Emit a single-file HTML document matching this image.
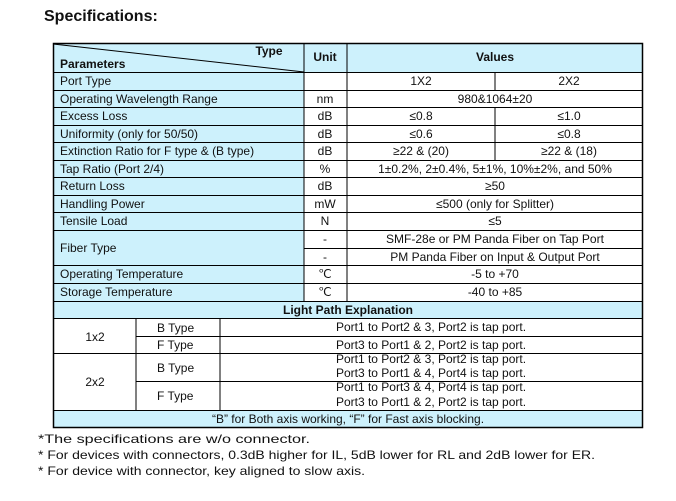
<!DOCTYPE html>
<html><head><meta charset="utf-8"><style>
html,body{margin:0;padding:0;background:#fff;}
svg{display:block;font-family:"Liberation Sans",Arial,sans-serif;}
text{fill:#111;font-size:12px;}
.c{text-anchor:middle;}
.b{font-weight:bold;}
</style></head><body>
<svg width="676" height="501" viewBox="0 0 676 501">
<text x="44" y="21" class="b" style="font-size:16px">Specifications:</text>
<g fill="#cdf1fc">
<rect x="53" y="43" width="590" height="29"/>
<rect x="53" y="72" width="251" height="229"/>
<rect x="53" y="301" width="590" height="17"/>
<rect x="53" y="410" width="590" height="17"/>
</g>
<g stroke="#000" stroke-width="1" fill="none">
<rect x="53.5" y="43.5" width="589" height="384" stroke-width="1.5"/>
<line x1="53" y1="44" x2="304" y2="72"/>
<line x1="304" y1="43" x2="304" y2="301"/>
<line x1="347" y1="43" x2="347" y2="301"/>
<line x1="495" y1="72" x2="495" y2="90"/>
<line x1="495" y1="107" x2="495" y2="160"/>
<path d="M53 72.5H643M53 90.5H643M53 107.5H643M53 125.5H643M53 142.5H643M53 160.5H643M53 177.5H643M53 195.5H643M53 212.5H643M53 230.5H643M304 248.5H643M53 265.5H643M53 283.5H643M53 301.5H643M53 318.5H643M136 336.5H643M53 353.5H643M136 381.5H643M53 410.5H643"/>
<line x1="136" y1="318" x2="136" y2="410"/>
<line x1="220" y1="318" x2="220" y2="410"/>
</g>
<text x="269" y="55" class="b c">Type</text>
<text x="60" y="68" class="b">Parameters</text>
<text x="325" y="61" class="b c">Unit</text>
<text x="495" y="61" class="b c">Values</text>
<g>
<text x="60" y="85">Port Type</text>
<text x="60" y="103">Operating Wavelength Range</text>
<text x="60" y="120">Excess Loss</text>
<text x="60" y="138">Uniformity (only for 50/50)</text>
<text x="60" y="155">Extinction Ratio for F type &amp; (B type)</text>
<text x="60" y="173">Tap Ratio (Port 2/4)</text>
<text x="60" y="190">Return Loss</text>
<text x="60" y="208">Handling Power</text>
<text x="60" y="225">Tensile Load</text>
<text x="60" y="252">Fiber Type</text>
<text x="60" y="278">Operating Temperature</text>
<text x="60" y="296">Storage Temperature</text>
</g>
<g class="c">
<text x="325" y="103" class="c">nm</text>
<text x="325" y="120" class="c">dB</text>
<text x="325" y="138" class="c">dB</text>
<text x="325" y="155" class="c">dB</text>
<text x="325" y="173" class="c">%</text>
<text x="325" y="190" class="c">dB</text>
<text x="325" y="208" class="c">mW</text>
<text x="325" y="225" class="c">N</text>
<text x="325" y="243" class="c">-</text>
<text x="325" y="261" class="c">-</text>
<text x="325" y="278" class="c">℃</text>
<text x="325" y="296" class="c">℃</text>
<text x="421" y="85" class="c">1X2</text>
<text x="569" y="85" class="c">2X2</text>
<text x="495" y="103" class="c">980&amp;1064±20</text>
<text x="421" y="120" class="c">≤0.8</text>
<text x="569" y="120" class="c">≤1.0</text>
<text x="421" y="138" class="c">≤0.6</text>
<text x="569" y="138" class="c">≤0.8</text>
<text x="421" y="155" class="c">≥22 &amp; (20)</text>
<text x="569" y="155" class="c">≥22 &amp; (18)</text>
<text x="495" y="173" class="c">1±0.2%, 2±0.4%, 5±1%, 10%±2%, and 50%</text>
<text x="495" y="190" class="c">≥50</text>
<text x="495" y="208" class="c">≤500 (only for Splitter)</text>
<text x="495" y="225" class="c">≤5</text>
<text x="495" y="243" class="c">SMF-28e or PM Panda Fiber on Tap Port</text>
<text x="495" y="261" class="c">PM Panda Fiber on Input &amp; Output Port</text>
<text x="495" y="278" class="c">-5 to +70</text>
<text x="495" y="296" class="c">-40 to +85</text>
<text x="348" y="314" class="c b">Light Path Explanation</text>
<text x="95" y="341" class="c">1x2</text>
<text x="95" y="386" class="c">2x2</text>
</g>
<text x="157" y="332">B Type</text>
<text x="157" y="349">F Type</text>
<text x="157" y="372">B Type</text>
<text x="157" y="400">F Type</text>
<g style="font-size:11.5px">
<text x="431" y="331" class="c">Port1 to Port2 &amp; 3, Port2 is tap port.</text>
<text x="431" y="349" class="c">Port3 to Port1 &amp; 2, Port2 is tap port.</text>
<text x="431" y="363" class="c">Port1 to Port2 &amp; 3, Port2 is tap port.</text>
<text x="431" y="377" class="c">Port3 to Port1 &amp; 4, Port4 is tap port.</text>
<text x="431" y="391" class="c">Port1 to Port3 &amp; 4, Port4 is tap port.</text>
<text x="431" y="406" class="c">Port3 to Port1 &amp; 2, Port2 is tap port.</text>
<text x="348" y="423" class="c">“B” for Both axis working, “F” for Fast axis blocking.</text>
</g>
<g style="font-size:15px">
<text x="38" y="443" textLength="272" lengthAdjust="spacingAndGlyphs">*The specifications are w/o connector.</text>
<text x="38" y="459" textLength="557" lengthAdjust="spacingAndGlyphs">* For devices with connectors, 0.3dB higher for IL, 5dB lower for RL and 2dB lower for ER.</text>
<text x="38" y="475" textLength="327" lengthAdjust="spacingAndGlyphs">* For device with connector, key aligned to slow axis.</text>
</g>
</svg>
</body></html>
